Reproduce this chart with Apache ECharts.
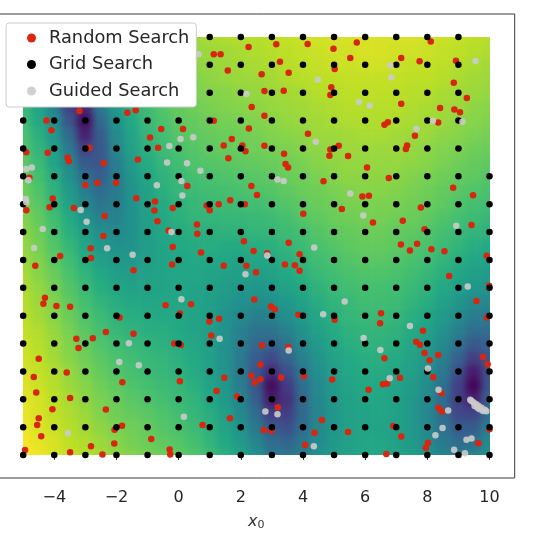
<!DOCTYPE html>
<html><head><meta charset="utf-8">
<style>
html,body{margin:0;background:#fff}
#c{width:533px;height:533px}
#c canvas:first-of-type{filter:blur(3.5px);clip-path:inset(37px 43.5px 78px 23px)}
</style>
<script src="https://cdn.jsdelivr.net/npm/echarts@6/dist/echarts.min.js"></script>
</head><body><div id="c"></div>
<script>
const tickValues=[-4,-2,0,2,4,6,8,10];
const heatY=['0','0.5','1','1.5','2','2.5','3','3.5','4','4.5','5','5.5','6','6.5','7','7.5','8','8.5','9','9.5','10','10.5','11','11.5','12','12.5','13','13.5','14','14.5','15'];
const heatX=['-5','-4.5','-4','-3.5','-3','-2.5','-2','-1.5','-1','-0.5','0','0.5','1','1.5','2','2.5','3','3.5','4','4.5','5','5.5','6','6.5','7','7.5','8','8.5','9','9.5','10'];
// colour position (0 dark purple .. 100 yellow), one list per x column, y going 0..15
const heatColumns=[
[100,99,98,97,96,95,94,93,92,91,90,89,88,87,85,84,83,81,80,78,77,75,73,71,69,67,65,63,61,59,57],
[98,96,95,94,94,92,91,90,89,88,86,85,84,82,81,79,78,76,74,72,70,68,65,63,60,58,56,53,50,48,46],
[94,94,92,91,90,89,88,86,85,84,82,81,79,77,75,73,71,69,66,64,62,58,56,52,49,44,40,37,34,34,35],
[91,90,89,88,87,85,84,82,81,79,77,75,73,71,69,66,63,61,57,54,50,45,40,34,26,19,14,15,22,29,36],
[89,88,86,85,83,82,80,78,76,74,72,70,68,65,62,59,56,51,47,42,36,28,19,9,3,11,21,30,37,43,48],
[86,85,83,81,80,78,76,74,72,70,68,65,62,60,56,53,49,44,39,35,30,27,27,29,34,39,44,48,52,56,59],
[83,82,80,78,77,75,73,71,69,66,64,62,59,56,53,50,47,44,42,41,41,42,45,47,50,53,57,59,62,65,67],
[81,79,78,76,74,72,70,69,66,64,62,60,57,55,53,51,50,50,50,51,52,54,56,58,60,62,65,67,69,71,73],
[79,77,76,74,72,70,68,66,65,62,61,59,57,57,56,55,55,56,57,57,59,61,63,65,67,68,70,72,74,76,77],
[77,75,73,72,70,68,66,65,63,62,60,59,58,58,58,58,59,60,61,63,64,66,68,69,71,73,75,76,78,79,81],
[75,73,71,69,67,66,64,63,61,60,59,59,59,59,59,60,61,63,64,66,67,69,71,73,75,76,77,79,81,82,83],
[72,70,68,66,65,63,61,60,59,58,58,58,58,59,60,61,63,65,66,68,70,72,73,75,76,78,80,81,83,84,85],
[68,65,64,62,60,58,57,56,55,55,55,56,57,58,60,62,63,65,67,69,71,73,75,76,78,80,81,83,84,85,87],
[63,60,58,56,54,52,51,50,50,50,51,53,55,57,59,61,64,66,68,70,72,74,76,77,79,81,82,84,85,86,88],
[57,54,51,47,45,42,41,41,42,44,47,50,53,56,58,61,64,66,69,71,73,75,77,78,80,82,83,85,86,87,89],
[49,45,40,35,30,27,26,29,34,38,43,48,52,55,59,62,65,67,69,72,74,76,78,79,81,83,84,85,87,88,89],
[41,35,27,18,7,3,12,22,31,38,44,49,53,57,60,63,66,68,71,73,75,77,79,81,82,84,85,86,88,89,90],
[38,32,24,18,14,17,24,31,38,44,49,53,57,60,63,65,68,70,73,75,77,78,80,82,84,85,86,88,89,90,91],
[42,39,35,34,34,36,39,43,47,51,54,57,60,63,66,68,70,73,75,77,78,80,82,83,85,86,87,89,90,91,92],
[49,47,46,45,46,47,49,51,54,57,59,62,64,67,69,71,73,75,77,78,80,82,83,85,86,87,89,90,91,92,93],
[54,53,52,52,53,54,55,57,59,61,63,65,67,69,71,73,75,77,78,80,82,83,84,85,87,88,89,90,92,93,94],
[57,57,57,57,57,58,59,60,62,64,66,67,69,71,73,75,76,78,80,81,83,84,85,86,88,89,90,91,92,93,94],
[59,59,58,58,59,60,61,62,64,65,67,69,70,72,74,76,77,79,80,82,83,84,85,87,88,89,90,91,93,94,94],
[59,59,58,59,59,60,61,62,64,65,67,69,70,72,74,76,77,79,80,82,83,84,85,87,88,89,90,91,93,94,94],
[58,57,57,57,57,58,59,61,62,64,66,68,69,71,73,75,76,78,80,81,83,84,85,86,88,89,90,91,92,93,94],
[55,54,53,53,53,54,56,57,59,61,63,65,67,69,71,73,75,77,78,80,81,83,84,85,87,88,89,90,91,93,94],
[50,48,47,46,47,48,50,52,54,57,59,62,64,66,69,71,73,75,77,78,80,82,83,85,86,87,89,90,91,92,93],
[44,41,38,36,36,37,40,43,47,51,54,57,60,63,65,68,70,72,75,76,78,80,81,83,85,86,87,89,90,91,92],
[41,35,28,22,18,19,24,31,37,43,48,52,56,59,62,65,67,70,72,74,76,78,80,82,83,85,86,87,89,90,91],
[43,37,29,20,9,1,7,18,28,36,42,47,52,56,59,62,65,68,70,72,75,76,78,80,82,83,85,86,87,89,90],
[50,46,41,36,30,26,24,26,30,36,41,46,50,54,57,60,64,66,69,71,73,75,77,79,81,82,84,85,86,88,89]
];
const viridis=['#440154','#482475','#414487','#355f8d','#2a788e','#21918c','#22a884','#44bf70','#7ad151','#bddf26','#fde725'];
const gridXs=[-5,-4,-3,-2,-1,0,1,2,3,4,5,6,7,8,9,10];
const gridYs=[0,1,2,3,4,5,6,7,8,9,10,11,12,13,14,15];
const gridMissing=[[10,11],[10,12],[10,13],[10,14],[10,15]];
const randomPoints=[[2.25,14.64],[1.13,14.38],[1.35,14.38],[1.58,13.8],[2.67,13.66],[2.76,13.06],[2.35,12.49],[2.76,12.17],[-3.19,12.34],[-1.65,12.28],[-1.38,12.37],[-4.25,12],[-4.09,11.65],[1.13,11.99],[2.26,11.72],[-0.56,11.7],[0.14,11.7],[-0.92,11.39],[1.71,11.34],[1.45,11.11],[2.05,11.11],[2.15,10.9],[2.76,11.1],[-0.66,11.03],[-2.87,11.03],[-4.9,10.86],[-4.21,10.85],[-3.57,10.68],[-3.53,10.54],[1.6,10.65],[-1.31,10.6],[-2.41,10.48],[-4.8,9.95],[-3,9.69],[-2.61,9.77],[-2.01,9.77],[0.28,9.65],[2.34,9.65],[2.52,9.33],[-4.05,9.2],[-1.36,9.21],[-0.76,9.1],[-4.9,8.78],[-4.15,8.89],[-3.37,8.86],[-0.78,8.77],[-0.19,8.86],[0.9,8.95],[1,8.78],[1.29,9],[1.66,9.14],[2.13,9],[-2.38,8.58],[-0.68,8.39],[0.59,8.27],[0.6,7.94],[-0.32,8.06],[-2.42,7.86],[2.1,7.67],[-0.19,7.46],[-2.83,7.42],[2.41,7.32],[0.72,7.27],[-3.81,7.14],[-2.82,7.07],[-4.61,6.79],[-0.21,6.84],[1.45,6.79],[2.18,6.79],[2.85,7.24],
[3.14,14.74],[4.15,14.75],[4.98,14.58],[5.73,14.8],[8.11,14.84],[3.26,14.11],[5.52,14.25],[7.16,14.25],[7.75,14.13],[8.92,14.15],[5.02,13.85],[3.54,13.72],[8.85,13.36],[4.91,13.2],[4.88,12.92],[3.38,13.07],[9.27,12.81],[7.16,12.6],[8.41,12.45],[8.87,12.4],[9.05,12.3],[8.35,11.93],[6.62,11.85],[6.73,11.94],[4.16,11.53],[7.6,11.46],[5.15,11.1],[4.88,10.96],[7.35,11.11],[7.31,10.98],[3.39,10.81],[4.85,10.74],[5.45,10.73],[3.44,10.44],[3.52,10.32],[6.06,10.32],[4.66,9.82],[6.76,9.94],[8.83,9.59],[9.47,9.32],[5.91,9.28],[6.12,9.3],[7.79,8.88],[5.25,8.83],[4.01,8.66],[6.25,8.34],[7.21,8.41],[7.91,8.1],[9.42,8.25],[3.54,7.62],[7.15,7.55],[7.44,7.34],[7.67,7.58],[8.13,7.38],[8.55,7.31],[3.89,7.2],[9.91,7.15],[3.42,6.84],[3.74,6.81],
[-1.45,6.63],[2.49,6.56],[-4.3,5.64],[-4.35,5.43],[-3.93,5.35],[-3.49,5.32],[-0.42,5.37],[0.4,5.41],[2.43,5.58],[0.04,5.08],[-1.9,4.93],[0.99,4.79],[1.3,4.89],[-2.34,4.41],[-1.45,4.35],[1.05,4.29],[-3.29,4.17],[-2.76,4.19],[-3.22,3.84],[-0.14,4],[0.07,3.95],[2.68,3.94],[-4.5,3.45],[2.63,3.25],[-3.6,2.96],[-4.66,2.8],[2.34,2.84],[1.47,2.77],[-1.81,2.61],[0.04,2.65],[2.63,2.72],[2.45,2.6],[-4.58,2.24],[1.22,2.3],[-3.49,2.05],[1.88,2.1],[-4.06,1.64],[-2.34,1.63],[-4.5,1.32],[1.65,1.32],[-4.55,1.08],[0.77,1.08],[-1.82,1.05],[-2.06,0.91],[2.74,0.9],[-4.42,0.67],[-0.88,0.57],[-2.07,0.41],[-2.82,0.31],[-4.94,0.18],[-3.49,0.1],[-2.45,0.02],[-0.29,0.2],[-0.27,0.02],
[8.7,6.42],[3.89,6.61],[9.99,6.07],[9.58,5.53],[2.97,5.33],[3.09,5.23],[3.85,5.03],[6.51,5.09],[6.48,4.73],[5.02,4.85],[9.91,4.93],[7.86,4.46],[7.64,4.06],[7.76,3.96],[3.53,3.88],[7.91,3.66],[8.35,3.59],[6.62,3.47],[8.07,3.4],[9.79,3.52],[9.94,3.26],[8.19,2.79],[3.3,2.78],[4.03,2.83],[7.12,2.77],[4.94,2.71],[6.57,2.54],[6.71,2.57],[6.11,2.34],[8.45,2.22],[3.19,1.71],[8.36,1.7],[8.47,1.56],[4.61,1.26],[2.98,0.86],[4.37,0.8],[5.45,0.83],[6.9,1.04],[7.16,0.66],[10,0.92],[9.64,0.42],[8.02,0.44],[7.95,0.26],[4.07,0.36],[6.68,0.04]];
const guidedPoints=[[2.18,12.95],[0.64,14.38],[0.47,11.4],[0.06,11.34],[-0.3,11.09],[-0.37,10.5],[0.27,10.47],[0.7,10.2],[-4.72,10.32],[-4.9,10.26],[-4.83,9.86],[0.09,9.83],[-0.7,9.68],[0.12,9.31],[-4.92,9.19],[-4.9,9.07],[-3.15,8.79],[-2.96,8.37],[-4.37,8.11],[-0.23,8],[-4.65,7.43],[-2.3,7.42],[-1.48,7.19],[2.85,7.16],
[9.55,14.14],[6.81,13.98],[6.84,13.55],[4.48,13.47],[5.8,12.67],[6.15,12.54],[7.65,11.71],[8.18,11.99],[9.13,11.96],[4.41,11.24],[3.18,9.89],[3.38,9.83],[5.52,9.38],[5.94,8.59],[8.93,8.23],[4.36,7.45],
[2.15,6.49],[0.09,5.59],[1.32,4.17],[-1.6,4.01],[-1.91,3.34],[-1.28,3.22],[0.17,1.37],[-3.56,0.78],[2.79,1.56],
[9.3,6.05],[5.34,5.51],[4.65,5.05],[7.44,4.63],[5.95,4.2],[3.54,3.75],[6.49,3.77],[8.02,3.1],[6.79,2.75],[8.36,2.34],[8.67,1.6],[3.18,1.46],[8.49,0.97],[8.26,0.71],[9.26,0.55],[9.42,0.59],[4.35,0.31],[8.86,0.19],[9.21,0.06],
[9.42,1.94],[9.49,1.88],[9.58,1.82],[9.65,1.76],[9.74,1.7],[9.85,1.62],[9.9,1.57],[9.52,1.76],[9.68,1.64],[9.38,1.98],[9.61,1.7],[9.79,1.58]];

const heatData=[];
heatColumns.forEach((col,i)=>col.forEach((v,j)=>heatData.push([i,j,v])));
const gridPoints=[];
gridXs.forEach(x=>gridYs.forEach(y=>{
  if(!gridMissing.some(m=>m[0]===x&&m[1]===y)) gridPoints.push([x,y]);
}));
const FONT='"DejaVu Sans"';
const chart=echarts.init(document.getElementById('c'),null,{renderer:'canvas',width:533,height:533});
chart.setOption({
  animation:false,
  backgroundColor:'transparent',
  grid:[
    {left:15.1,top:30,width:482,height:432,show:false,zlevel:0,outerBoundsMode:'none',containLabel:false},
    {left:-2,top:14,width:516.7,height:464,show:true,borderColor:'#3a3a3a',borderWidth:1,backgroundColor:'transparent',zlevel:1,z:5,outerBoundsMode:'none',containLabel:false}
  ],
  xAxis:[
    {type:'category',gridIndex:0,data:heatX,show:false,zlevel:0},
    {type:'value',gridIndex:1,min:-5.81,max:10.81,zlevel:1,z:6,
     name:'{i|x}{s|0}',nameLocation:'middle',nameGap:35,
     nameTextStyle:{rich:{i:{fontFamily:FONT,fontStyle:'italic',fontSize:16,color:'#333'},s:{fontFamily:FONT,fontSize:11,color:'#333',verticalAlign:'bottom',padding:[7,0,0,0]}}},
     splitLine:{show:false},axisLine:{show:false},
     axisTick:{show:true,length:5,lineStyle:{color:'#3a3a3a',width:1},customValues:tickValues},
     axisLabel:{show:true,customValues:tickValues,fontFamily:FONT,fontSize:16,color:'#262626',margin:12,
       formatter:v=>String(v).replace('-','\u2212')}}
  ],
  yAxis:[
    {type:'category',gridIndex:0,data:heatY,show:false,zlevel:0},
    {type:'value',gridIndex:1,min:-0.825,max:15.825,show:false,zlevel:1}
  ],
  visualMap:{show:false,min:0,max:100,seriesIndex:0,calculable:false,inRange:{color:viridis}},
  legend:{
    left:6,top:23,orient:'vertical',zlevel:1,z:20,
    data:['Random Search','Grid Search','Guided Search'],
    icon:'circle',itemWidth:25,itemHeight:9,itemGap:8.5,
    padding:[6,7,7,21],
    backgroundColor:'#fff',borderColor:'#ccc',borderWidth:1,borderRadius:3,
    textStyle:{fontFamily:FONT,fontSize:17.8,color:'#262626',lineHeight:18}
  },
  series:[
    {type:'heatmap',xAxisIndex:0,yAxisIndex:0,data:heatData,zlevel:0,progressive:0,silent:true,itemStyle:{borderWidth:0}},
    {name:'Random Search',type:'scatter',xAxisIndex:1,yAxisIndex:1,data:randomPoints,symbolSize:6.5,zlevel:1,z:7,clip:false,itemStyle:{color:'#d8260f',opacity:1}},
    {name:'Grid Search',type:'scatter',xAxisIndex:1,yAxisIndex:1,data:gridPoints,symbolSize:6.5,zlevel:1,z:8,clip:false,itemStyle:{color:'#000',opacity:1}},
    {name:'Guided Search',type:'scatter',xAxisIndex:1,yAxisIndex:1,data:guidedPoints,symbolSize:6.5,zlevel:1,z:9,clip:false,itemStyle:{color:'#cbcbcb',opacity:0.9}}
  ]
});
</script></body></html>
